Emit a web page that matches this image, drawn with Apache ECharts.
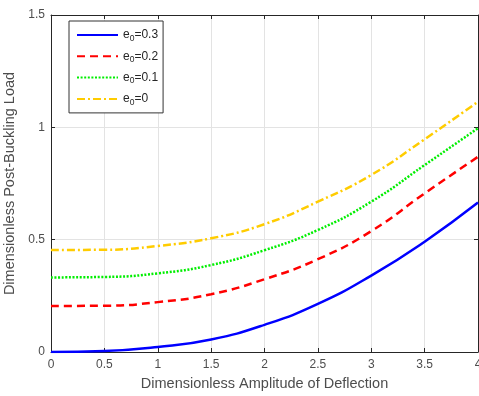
<!DOCTYPE html>
<html>
<head>
<meta charset="utf-8">
<script src="https://cdn.jsdelivr.net/npm/echarts@6/dist/echarts.min.js"></script>
<style>
html,body{margin:0;padding:0;background:#fff;}
#chart{width:479px;height:396px;}
</style>
</head>
<body>
<div id="chart"></div>
<script>
const xValues = [0, 0.5, 1, 1.5, 2, 2.5, 3, 3.5, 4];
const seriesNames = ['e0=0.3', 'e0=0.2', 'e0=0.1', 'e0=0'];
const e03 = [0, 0.004, 0.022, 0.056, 0.121, 0.214, 0.340, 0.491, 0.665];
const e02 = [0.205, 0.206, 0.222, 0.257, 0.324, 0.413, 0.538, 0.706, 0.869];
const e01 = [0.332, 0.334, 0.350, 0.387, 0.453, 0.543, 0.669, 0.832, 0.996];
const e00 = [0.454, 0.455, 0.472, 0.506, 0.569, 0.669, 0.788, 0.947, 1.114];
const xTicks = ['0', '0.5', '1', '1.5', '2', '2.5', '3', '3.5', '4'];
const yTicks = ['0', '0.5', '1', '1.5'];
const xTitle = 'Dimensionless Amplitude of Deflection';
const yTitle = 'Dimensionless Post-Buckling Load';

const allSeries = [e03, e02, e01, e00];
const colors = ['#0000ff', '#ff0000', '#00ee00', '#ffcc00'];
const dashes = ['solid', [8, 5], [2, 1.6], [8, 3, 2, 3]];

const font = 'Liberation Sans, Arial, Helvetica, sans-serif';
const axisColor = '#262626';
const labelColor = '#4d4d4d';

const chart = echarts.init(document.getElementById('chart'), null, {renderer: 'canvas'});

const series = allSeries.map((vals, i) => ({
  name: seriesNames[i],
  type: 'line',
  data: vals.map((v, j) => [xValues[j], v]),
  smooth: true,
  symbol: 'none',
  showSymbol: false,
  lineStyle: {color: colors[i], width: 2.5, type: dashes[i]},
  itemStyle: {color: colors[i]},
  z: 10 - i
}));

const xFmt = v => { const k = Math.round(v / 0.5); return xTicks[k] !== undefined ? xTicks[k] : ''; };
const yFmt = v => { const k = Math.round(v / 0.5); return yTicks[k] !== undefined ? yTicks[k] : ''; };

chart.setOption({
  animation: false,
  backgroundColor: '#ffffff',
  textStyle: {fontFamily: font},
  grid: {left: 51, right: 1, top: 15, bottom: 44, containLabel: false, outerBoundsMode: 'none'},
  legend: {
    show: true,
    left: 69, top: 21,
    orient: 'vertical',
    itemWidth: 41, itemHeight: 14,
    itemGap: 5.3,
    padding: [6, 5, 6, 7],
    borderColor: '#333333', borderWidth: 1,
    backgroundColor: '#ffffff',
    itemStyle: {opacity: 0},
    formatter: name => '{a|e}{s|0}{a|' + name.replace('e0', '') + '}',
    textStyle: {
      fontFamily: font,
      rich: {
        a: {fontSize: 12, color: '#262626', fontFamily: font, lineHeight: 14},
        s: {fontSize: 8.5, color: '#262626', fontFamily: font, lineHeight: 9, padding: [7, 0, 0, 0]}
      }
    },
    data: seriesNames
  },
  xAxis: [{
    type: 'value', min: 0, max: 4, interval: 0.5,
    name: xTitle, nameLocation: 'middle', nameGap: 24,
    nameTextStyle: {fontSize: 14.5, color: labelColor, fontFamily: font},
    axisLine: {show: true, lineStyle: {color: axisColor, width: 1}},
    axisTick: {show: true, inside: true, length: 4, lineStyle: {color: axisColor}},
    axisLabel: {fontSize: 12, color: labelColor, margin: 7, formatter: xFmt, showMaxLabel: true, showMinLabel: true},
    splitLine: {show: true, lineStyle: {color: '#e3e3e3', width: 1}}
  }, {
    type: 'value', min: 0, max: 4, interval: 0.5, position: 'top',
    axisLine: {show: true, onZero: false, lineStyle: {color: axisColor, width: 1}},
    axisTick: {show: true, inside: true, length: 4, lineStyle: {color: axisColor}},
    axisLabel: {show: false}, splitLine: {show: false}
  }],
  yAxis: [{
    type: 'value', min: 0, max: 1.5, interval: 0.5,
    name: yTitle, nameLocation: 'middle', nameGap: 26,
    nameTextStyle: {fontSize: 14.5, color: labelColor, fontFamily: font},
    axisLine: {show: true, lineStyle: {color: axisColor, width: 1}},
    axisTick: {show: true, inside: true, length: 4, lineStyle: {color: axisColor}},
    axisLabel: {fontSize: 12, color: labelColor, margin: 6, formatter: yFmt},
    splitLine: {show: true, lineStyle: {color: '#e3e3e3', width: 1}}
  }, {
    type: 'value', min: 0, max: 1.5, interval: 0.5, position: 'right',
    axisLine: {show: true, onZero: false, lineStyle: {color: axisColor, width: 1}},
    axisTick: {show: true, inside: true, length: 4, lineStyle: {color: axisColor}},
    axisLabel: {show: false}, splitLine: {show: false}
  }],
  series: series
});
</script>
</body>
</html>
